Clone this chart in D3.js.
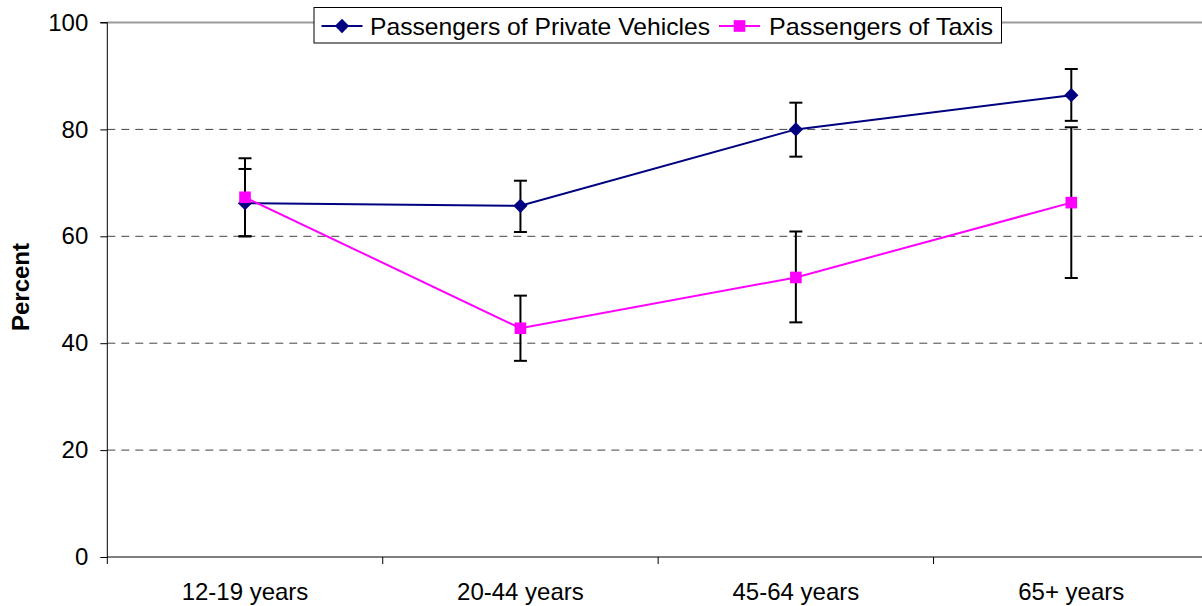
<!DOCTYPE html>
<html lang="en">
<head>
  <meta charset="UTF-8">
  <title>Passengers by age group</title>
  <script src="https://d3js.org/d3.v7.min.js"></script>
  <style>
    body {
      margin: 0;
      background-color: #ffffff;
      font-family: "Liberation Sans", Arial, sans-serif;
    }
    svg text { fill: #000; }
  </style>
</head>
<body>
  <div id="chart"></div>
  <script>
    // data
    const ageGroups = ["12-19 years", "20-44 years", "45-64 years", "65+ years"];
    const privateValues = [66.2, 65.7, 80.0, 86.4];
    const privateLow = [60.0, 60.8, 74.9, 81.6];
    const privateHigh = [72.6, 70.4, 85.0, 91.3];
    const taxiValues = [67.3, 42.8, 52.3, 66.3];
    const taxiLow = [60.0, 36.7, 43.9, 52.2];
    const taxiHigh = [74.6, 48.9, 60.9, 80.4];
    const yTicks = [0, 20, 40, 60, 80, 100];
    const seriesNames = ["Passengers of Private Vehicles", "Passengers of Taxis"];

    const width = 1202, height = 606;
    const margin = { top: 22.5, right: -7, bottom: 49, left: 107.3 };

    const svg = d3.select("#chart").append("svg")
      .attr("width", width).attr("height", height);

    const x = d3.scaleBand().domain(ageGroups)
      .range([margin.left, width - margin.right]);
    const y = d3.scaleLinear().domain([0, 100])
      .range([height - margin.bottom, margin.top]);
    const cx = d => x(d) + x.bandwidth() / 2;

    // gridlines
    svg.append("g").selectAll("line")
      .data(yTicks.filter(t => t > 0 && t < 100))
      .join("line")
      .attr("x1", margin.left).attr("x2", width)
      .attr("y1", d => y(d)).attr("y2", d => y(d))
      .attr("stroke", "#444").attr("stroke-width", 1)
      .attr("stroke-dasharray", "8,6");
    svg.append("line")
      .attr("x1", margin.left).attr("x2", width)
      .attr("y1", y(100)).attr("y2", y(100))
      .attr("stroke", "#999").attr("stroke-width", 2);

    // axes
    const yAxis = svg.append("g")
      .attr("transform", `translate(${margin.left},0)`)
      .call(d3.axisLeft(y).tickValues(yTicks).tickSize(7).tickPadding(12));
    yAxis.select(".domain").attr("stroke", "#000").attr("d", `M-7,${y(100)}H0V${y(0)}`);
    yAxis.selectAll("text").style("font-size", "24px").style("font-family", "Liberation Sans, Arial, sans-serif");

    const xAxis = svg.append("g")
      .attr("transform", `translate(0,${y(0)})`);
    xAxis.append("line")
      .attr("x1", margin.left).attr("x2", width)
      .attr("stroke", "#000");
    xAxis.selectAll(".tick")
      .data(ageGroups)
      .join("line")
      .attr("x1", d => x(d)).attr("x2", d => x(d))
      .attr("y1", 0).attr("y2", 7).attr("stroke", "#000");
    xAxis.selectAll("text")
      .data(ageGroups)
      .join("text")
      .attr("x", d => cx(d)).attr("y", 43)
      .attr("text-anchor", "middle")
      .style("font-size", "24px")
      .text(d => d);

    svg.append("text")
      .attr("transform", "translate(29,287) rotate(-90)")
      .attr("text-anchor", "middle")
      .style("font-size", "24px").style("font-weight", "bold")
      .text("Percent");

    // error bars
    function errorBars(low, high) {
      const g = svg.append("g").attr("stroke", "#000").attr("stroke-width", 2);
      ageGroups.forEach((a, i) => {
        g.append("line").attr("x1", cx(a)).attr("x2", cx(a)).attr("y1", y(low[i])).attr("y2", y(high[i]));
        g.append("line").attr("x1", cx(a) - 6.5).attr("x2", cx(a) + 6.5).attr("y1", y(low[i])).attr("y2", y(low[i]));
        g.append("line").attr("x1", cx(a) - 6.5).attr("x2", cx(a) + 6.5).attr("y1", y(high[i])).attr("y2", y(high[i]));
      });
    }
    errorBars(privateLow, privateHigh);
    errorBars(taxiLow, taxiHigh);

    const line = d3.line().x((d, i) => cx(ageGroups[i])).y(d => y(d));
    const diamond = d3.symbol().type(d3.symbolDiamond2).size(130);
    const square = d3.symbol().type(d3.symbolSquare).size(135);

    svg.append("path").datum(privateValues)
      .attr("d", line).attr("fill", "none").attr("stroke", "#000080").attr("stroke-width", 2);
    svg.append("g").selectAll("path").data(privateValues).join("path")
      .attr("transform", (d, i) => `translate(${cx(ageGroups[i])},${y(d)})`)
      .attr("d", diamond).attr("fill", "#000080");

    svg.append("path").datum(taxiValues)
      .attr("d", line).attr("fill", "none").attr("stroke", "#ff00ff").attr("stroke-width", 2);
    svg.append("g").selectAll("path").data(taxiValues).join("path")
      .attr("transform", (d, i) => `translate(${cx(ageGroups[i])},${y(d)})`)
      .attr("d", square).attr("fill", "#ff00ff");

    // legend
    const legend = svg.append("g");
    legend.append("rect")
      .attr("x", 314).attr("y", 7.5).attr("width", 687.5).attr("height", 35.5)
      .attr("fill", "#fff").attr("stroke", "#000").attr("stroke-width", 1);
    const legendItems = [
      { name: seriesNames[0], color: "#000080", sym: diamond, x0: 321.5, tx: 370, tw: 340 },
      { name: seriesNames[1], color: "#ff00ff", sym: square, x0: 719, tx: 769, tw: 224 }
    ];
    legendItems.forEach(it => {
      legend.append("line").attr("x1", it.x0).attr("x2", it.x0 + 41)
        .attr("y1", 26).attr("y2", 26).attr("stroke", it.color).attr("stroke-width", 2);
      legend.append("path").attr("transform", `translate(${it.x0 + 20.5},26)`)
        .attr("d", it.sym).attr("fill", it.color);
      legend.append("text").attr("x", it.tx).attr("y", 34.5)
        .attr("textLength", it.tw).attr("lengthAdjust", "spacingAndGlyphs")
        .style("font-size", "24px").text(it.name);
    });
  </script>
</body>
</html>
